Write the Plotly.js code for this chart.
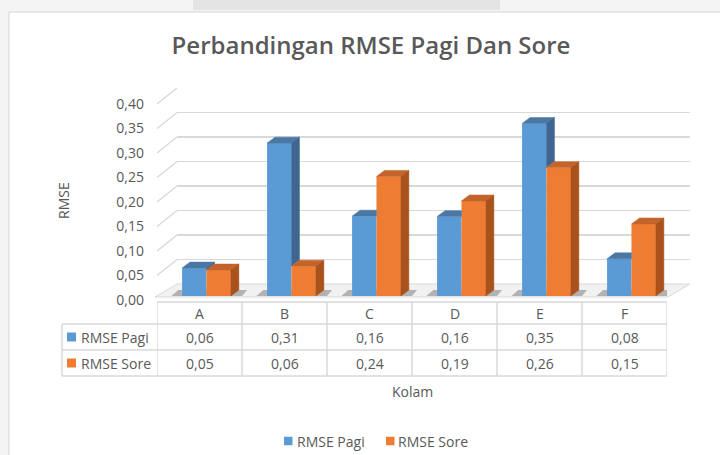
<!DOCTYPE html>
<html>
<head>
<meta charset="utf-8">
<script src="https://cdn.plot.ly/plotly-3.0.1.min.js"></script>
<style>html,body{margin:0;padding:0;background:#f4f4f4;}#chart{width:720px;height:455px;}</style>
</head>
<body>
<div id="chart"></div>
<script>
// ---- data ----
const categories = ['A', 'B', 'C', 'D', 'E', 'F'];
const rmsePagi = [0.057, 0.312, 0.163, 0.162, 0.352, 0.076];
const rmseSore = [0.053, 0.061, 0.244, 0.194, 0.262, 0.147];
const seriesNames = ['RMSE Pagi', 'RMSE Sore'];
const titleText = 'Perbandingan RMSE Pagi Dan Sore';
const yTitle = 'RMSE';
const xTitle = 'Kolam';

// ---- styling / geometry ----
const W = 720, H = 455;
const fx = p => p / W;
const fy = p => 1 - p / H;
const blue = {front: '#5b9bd5', top: '#4a77a3', side: '#3f6690'};
const orange = {front: '#ee7d33', top: '#c2642b', side: '#a9521c'};
const txt = '#595959';
const lineCol = '#d9d9d9';
const FONT = 'Open Sans, Liberation Sans, sans-serif';

const idx = categories.map((c, i) => i);
const barW = 0.287;
const offB = -0.205, offO = 0.082;
const dX = 0.094;      // depth in x (data units)
const dY = 0.0122;     // depth in y (data units)

function fmt(v) { return v.toFixed(2).replace('.', ','); }

function poly(list) {
  const xs = [], ys = [];
  list.forEach(p => { p.forEach(q => { xs.push(q[0]); ys.push(q[1]); }); xs.push(null); ys.push(null); });
  return {xs, ys};
}
const blueTop = [], blueSide = [], orTop = [], orSide = [];
idx.forEach(k => {
  const v = rmsePagi[k], vo = rmseSore[k];
  const x0 = k + offB, x1 = k + offB + barW;
  const o0 = k + offO, o1 = k + offO + barW;
  if (v > vo) {
    blueTop.push([[x0, v], [x1, v], [x1 + dX, v + dY], [x0 + dX, v + dY], [x0, v]]);
    blueSide.push([[x1, vo], [x1, v], [x1 + dX, v + dY], [x1 + dX, vo + dY], [x1, vo]]);
  } else {
    blueTop.push([[x0, v], [x1, v], [x1, v + dY], [x0 + dX, v + dY], [x0, v]]);
  }
  orTop.push([[o0, vo], [o1, vo], [o1 + dX, vo + dY], [o0 + dX, vo + dY], [o0, vo]]);
  orSide.push([[o1, 0], [o1, vo], [o1 + dX, vo + dY], [o1 + dX, dY], [o1, 0]]);
});
function face(list, color) {
  const p = poly(list);
  return {type: 'scatter', mode: 'lines', x: p.xs, y: p.ys, fill: 'toself', fillcolor: color,
          line: {width: 0.5, color: color}, xaxis: 'x2', yaxis: 'y2', showlegend: false, hoverinfo: 'skip'};
}

const traces = [
  {type: 'scatter', x: [], y: [], xaxis: 'x', yaxis: 'y', showlegend: false, hoverinfo: 'skip'},
  {type: 'bar', name: seriesNames[0], x: idx, y: rmsePagi, width: barW, offset: offB,
   marker: {color: blue.front, line: {width: 0}}, xaxis: 'x2', yaxis: 'y2', showlegend: false},
  {type: 'bar', name: seriesNames[1], x: idx, y: rmseSore, width: barW, offset: offO,
   marker: {color: orange.front, line: {width: 0}}, xaxis: 'x2', yaxis: 'y2', showlegend: false},
  face(blueTop, blue.top),
  face(blueSide, blue.side),
  face(orTop, orange.top),
  face(orSide, orange.side),
  // carrier for the value-axis labels
  {type: 'scatter', x: [], y: [], xaxis: 'x2', yaxis: 'y3', showlegend: false, hoverinfo: 'skip'}
];

// ---- decorations ----
const shapes = [];
shapes.push({type: 'rect', xref: 'paper', yref: 'paper', x0: fx(9), x1: fx(740), y0: fy(470), y1: fy(12),
  fillcolor: '#ffffff', line: {color: '#d6d6d6', width: 1}, layer: 'below'});
shapes.push({type: 'rect', xref: 'paper', yref: 'paper', x0: fx(193), x1: fx(500), y0: fy(10), y1: fy(0),
  fillcolor: '#e4e4e4', line: {width: 0}, layer: 'below'});
// floor
shapes.push({type: 'path', xref: 'paper', yref: 'paper',
  path: `M ${fx(155)} ${fy(297)} L ${fx(668)} ${fy(297)} L ${fx(690)} ${fy(284)} L ${fx(177)} ${fy(284)} Z`,
  fillcolor: '#f1f1f1', line: {color: lineCol, width: 1}, layer: 'below'});
// bar shadows on floor
idx.forEach(k => {
  shapes.push({type: 'path', xref: 'x2', yref: 'paper',
    path: `M ${k - 0.33} ${fy(296)} L ${k + 0.50} ${fy(296)} L ${k + 0.56} ${fy(290)} L ${k - 0.25} ${fy(290)} Z`,
    fillcolor: '#555555', opacity: 0.4, line: {width: 0}, layer: 'below'});
});
// left wall diagonals
for (let j = 0; j <= 8; j++) {
  shapes.push({type: 'line', xref: 'paper', yref: 'y', ysizemode: 'pixel', yanchor: j * 0.05,
    x0: fx(157), x1: fx(177), y0: -16, y1: 0, line: {color: lineCol, width: 1.5}});
}
// data table lines
const tTop = 302, r1 = 324, r2 = 350, r3 = 376, tLeft = 62;
shapes.push({type: 'line', xref: 'x2', yref: 'paper', x0: -0.5, x1: categories.length - 0.5, y0: fy(tTop), y1: fy(tTop), line: {color: lineCol, width: 1.5}});
[r1, r2, r3].forEach(r => shapes.push({type: 'line', xref: 'paper', yref: 'paper', x0: fx(tLeft), x1: fx(667), y0: fy(r), y1: fy(r), line: {color: lineCol, width: 1.5}}));
for (let j = 0; j <= categories.length; j++) {
  shapes.push({type: 'line', xref: 'x2', yref: 'paper', x0: j - 0.5, x1: j - 0.5, y0: fy(tTop), y1: fy(r3), line: {color: lineCol, width: 1.5}});
}
shapes.push({type: 'line', xref: 'paper', yref: 'paper', x0: fx(tLeft), x1: fx(tLeft), y0: fy(r1), y1: fy(r3), line: {color: lineCol, width: 1.5}});
// legend keys in table
[[blue.front, (r1 + r2) / 2], [orange.front, (r2 + r3) / 2]].forEach(([c, yc]) => {
  shapes.push({type: 'rect', xref: 'paper', yref: 'paper', x0: fx(67), x1: fx(76), y0: fy(yc + 4.5), y1: fy(yc - 4.5), fillcolor: c, line: {width: 0}});
});
// bottom legend keys
const legY = 441;
[[blue.front, 284], [orange.front, 386]].forEach(([c, x]) => {
  shapes.push({type: 'rect', xref: 'paper', yref: 'paper', x0: fx(x), x1: fx(x + 8.5), y0: fy(legY + 4.25), y1: fy(legY - 4.25), fillcolor: c, line: {width: 0}});
});

const annotations = [];
categories.forEach((c, k) => {
  annotations.push({xref: 'x2', yref: 'paper', x: k, y: fy((tTop + r1) / 2), text: c, showarrow: false, xanchor: 'center', yanchor: 'middle'});
  annotations.push({xref: 'x2', yref: 'paper', x: k, y: fy((r1 + r2) / 2), text: fmt(rmsePagi[k]), showarrow: false, xanchor: 'center', yanchor: 'middle'});
  annotations.push({xref: 'x2', yref: 'paper', x: k, y: fy((r2 + r3) / 2), text: fmt(rmseSore[k]), showarrow: false, xanchor: 'center', yanchor: 'middle'});
});
annotations.push({xref: 'paper', yref: 'paper', x: fx(79), y: fy((r1 + r2) / 2), text: seriesNames[0], showarrow: false, xanchor: 'left', yanchor: 'middle'});
annotations.push({xref: 'paper', yref: 'paper', x: fx(79), y: fy((r2 + r3) / 2), text: seriesNames[1], showarrow: false, xanchor: 'left', yanchor: 'middle'});
annotations.push({xref: 'paper', yref: 'paper', x: fx(295), y: fy(legY), text: seriesNames[0], showarrow: false, xanchor: 'left', yanchor: 'middle'});
annotations.push({xref: 'paper', yref: 'paper', x: fx(396), y: fy(legY), text: seriesNames[1], showarrow: false, xanchor: 'left', yanchor: 'middle'});
annotations.push({xref: 'paper', yref: 'paper', x: fx(412), y: fy(391), text: xTitle, showarrow: false, xanchor: 'center', yanchor: 'middle'});
annotations.push({xref: 'paper', yref: 'paper', x: fx(63), y: fy(200), text: yTitle, textangle: -90, showarrow: false, xanchor: 'center', yanchor: 'middle'});

const layout = {
  width: W, height: H,
  margin: {l: 0, r: 0, t: 0, b: 0},
  paper_bgcolor: '#f4f4f4',
  plot_bgcolor: 'rgba(0,0,0,0)',
  separators: ',.',
  font: {family: FONT, size: 14, color: txt},
  title: {text: titleText, x: fx(371), xanchor: 'center', y: fy(46), yanchor: 'middle',
          font: {family: FONT, size: 24, weight: 600, color: txt}},
  showlegend: false,
  barmode: 'overlay',
  // back wall grid
  xaxis: {domain: [fx(177), fx(690)], range: [0, 1], visible: false, anchor: 'y', fixedrange: true},
  yaxis: {domain: [fy(284), fy(88)], range: [0, 0.4], dtick: 0.05, tick0: 0, showgrid: true,
          gridcolor: lineCol, gridwidth: 1.5, showticklabels: false, zeroline: false, showline: false,
          ticks: '', anchor: 'x', fixedrange: true},
  // bars
  xaxis2: {domain: [fx(157), fx(667)], range: [-0.5, categories.length - 0.5], showgrid: false,
           zeroline: false, showline: false, showticklabels: false, ticks: '', anchor: 'y2', fixedrange: true},
  yaxis2: {domain: [fy(296), fy(100)], range: [0, 0.4], showgrid: false, zeroline: false, showline: false,
           showticklabels: false, ticks: '', anchor: 'x2', fixedrange: true},
  // value-axis labels (drawn slightly lower, like the reference)
  yaxis3: {domain: [fy(300), fy(104)], range: [0, 0.4], dtick: 0.05, tick0: 0, tickformat: '.2f',
           showgrid: false, zeroline: false, showline: false, ticks: '', ticklabelstandoff: 12,
           tickfont: {size: 14, color: txt}, anchor: 'x2', fixedrange: true},
  shapes: shapes,
  annotations: annotations
};

Plotly.newPlot('chart', traces, layout, {displayModeBar: false, staticPlot: true});
</script>
</body>
</html>
